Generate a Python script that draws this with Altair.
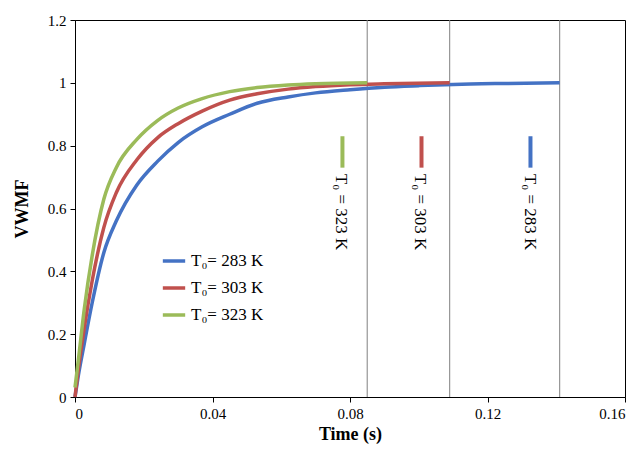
import altair as alt
import pandas as pd

t_283 = [0, 0.001, 0.0027, 0.005, 0.0084, 0.012, 0.018, 0.024, 0.03, 0.037, 0.045, 0.053,
         0.062, 0.07, 0.08, 0.09, 0.1, 0.11, 0.125, 0.141]
v_283 = [0, 0.07, 0.17, 0.30, 0.46, 0.56, 0.675, 0.75, 0.81, 0.86, 0.90, 0.935,
         0.955, 0.968, 0.978, 0.986, 0.991, 0.995, 0.998, 1.0]
t_303 = [0, 0.001, 0.0027, 0.005, 0.0084, 0.012, 0.018, 0.024, 0.03, 0.037, 0.045, 0.053,
         0.062, 0.07, 0.08, 0.09, 0.109]
v_303 = [0, 0.09, 0.22, 0.37, 0.54, 0.65, 0.755, 0.825, 0.87, 0.91, 0.945, 0.965,
         0.98, 0.988, 0.994, 0.997, 1.0]
t_323 = [0, 0.001, 0.0027, 0.005, 0.0084, 0.012, 0.018, 0.024, 0.03, 0.037, 0.045, 0.053,
         0.062, 0.07, 0.085]
v_323 = [0.03, 0.12, 0.28, 0.45, 0.63, 0.73, 0.82, 0.88, 0.92, 0.95, 0.972, 0.985,
         0.993, 0.997, 1.0]
series = ["T₀= 283 K", "T₀= 303 K", "T₀= 323 K"]
colors = ["#4472C4", "#C0504D", "#9BBB59"]
ends = [0.141, 0.109, 0.085]
label_x = [0.1324, 0.1005, 0.0775]
label_text = ["T₀ = 283 K", "T₀ = 303 K", "T₀ = 323 K"]
seg_x = [0.1325, 0.1008, 0.0778]

rows = []
for name, ts, vs in zip(series, [t_283, t_303, t_323], [v_283, v_303, v_323]):
    for t, v in zip(ts, vs):
        rows.append({"series": name, "t": t, "v": v})
df = pd.DataFrame(rows)

font = "Liberation Serif"
xs = alt.Scale(domain=[0, 0.16], nice=False)
ys = alt.Scale(domain=[0, 1.2], nice=False)

lines = alt.Chart(df).mark_line(strokeWidth=3.5, interpolate="monotone").encode(
    x=alt.X("t:Q", scale=xs, title="Time (s)",
            axis=alt.Axis(values=[0, 0.04, 0.08, 0.12, 0.16], format="~g", grid=False)),
    y=alt.Y("v:Q", scale=ys, title="VWMF",
            axis=alt.Axis(values=[0, 0.2, 0.4, 0.6, 0.8, 1, 1.2], format="~g", grid=False)),
    color=alt.Color("series:N", scale=alt.Scale(domain=series, range=colors),
                    legend=alt.Legend(title=None, orient="none", legendX=86, legendY=228,
                                      symbolType="stroke", symbolStrokeWidth=3.5, symbolSize=500,
                                      labelFont=font, labelFontSize=17, rowPadding=6)),
)

vdf = pd.DataFrame({"x": ends})
vlines = alt.Chart(vdf).mark_rule(color="#808080", strokeWidth=1).encode(x=alt.X("x:Q", scale=xs))

sdf = pd.DataFrame({"x": seg_x, "y1": [0.73] * 3, "y2": [0.83] * 3, "c": colors})
segs = alt.Chart(sdf).mark_rule(strokeWidth=4).encode(
    x=alt.X("x:Q", scale=xs), y=alt.Y("y1:Q", scale=ys), y2="y2:Q",
    color=alt.Color("c:N", scale=None))

ldf = pd.DataFrame({"x": label_x, "y": [0.71] * 3, "label": label_text})
labels = alt.Chart(ldf).mark_text(angle=90, align="left", baseline="middle",
                                  font=font, fontSize=17, color="black").encode(
    x=alt.X("x:Q", scale=xs), y=alt.Y("y:Q", scale=ys), text="label:N")

chart = (vlines + lines + segs + labels).properties(width=550, height=377).configure_axis(
    labelFont=font, labelFontSize=15, labelColor="black", titleFont=font, titleFontSize=18,
    titleColor="black", domainColor="black", tickColor="black", labelPadding=4
).configure_axisY(titlePadding=16).configure_view(stroke="black", strokeWidth=1)

chart.save("out.html", embed_options={"renderer": "svg", "actions": False})
